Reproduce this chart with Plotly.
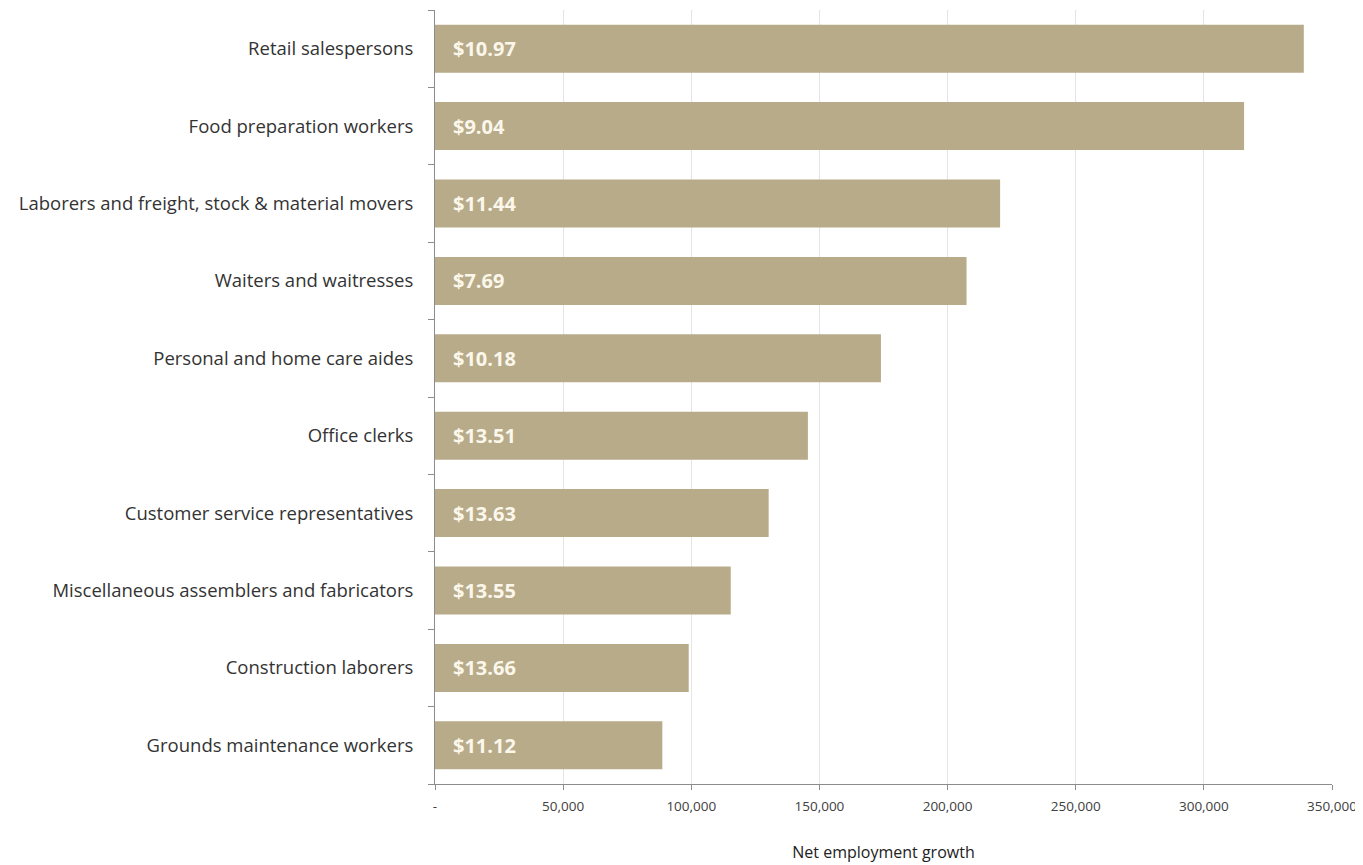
import plotly.graph_objects as go

occupations = [
    "Retail salespersons",
    "Food preparation workers",
    "Laborers and freight, stock & material movers",
    "Waiters and waitresses",
    "Personal and home care aides",
    "Office clerks",
    "Customer service representatives",
    "Miscellaneous assemblers and fabricators",
    "Construction laborers",
    "Grounds maintenance workers",
]
growth = [339000, 315700, 220500, 207400, 174000, 145500, 130200, 115400, 99000, 88700]
wages = ["$10.97", "$9.04", "$11.44", "$7.69", "$10.18", "$13.51", "$13.63", "$13.55", "$13.66", "$11.12"]

x_tickvals = [0, 50000, 100000, 150000, 200000, 250000, 300000, 350000]
x_ticktext = ["-", "50,000", "100,000", "150,000", "200,000", "250,000", "300,000", "350,000"]

BAR = "#b8ab8a"
FONT = "Open Sans"

fig = go.Figure()
fig.add_trace(go.Bar(
    x=growth,
    y=occupations,
    orientation="h",
    marker=dict(color=BAR, line=dict(width=0)),
    width=0.62,
    hoverinfo="x+y",
))

for occ, w in zip(occupations, wages):
    fig.add_annotation(
        x=0, y=occ, xref="x", yref="y",
        text=w, showarrow=False,
        xanchor="left", yanchor="middle", xshift=16,
        font=dict(family=FONT, size=20, color="#fbf7ea", weight="bold"),
    )

# page body has an 8px default margin; figure offset accounted for in margins
fig.update_layout(
    width=1363, height=857,
    margin=dict(l=427, r=39, t=2, b=81),
    paper_bgcolor="white",
    plot_bgcolor="white",
    showlegend=False,
    bargap=0.38,
    font=dict(family=FONT, color="#333333"),
)

fig.update_xaxes(
    automargin=False,
    range=[0, 350000],
    tickvals=x_tickvals,
    ticktext=x_ticktext,
    tickfont=dict(family=FONT, size=13.5, color="#404040"),
    showgrid=True,
    gridcolor="#e4e4e8",
    gridwidth=1,
    showline=True,
    linecolor="#8c8c8c",
    linewidth=1,
    ticks="outside",
    ticklen=5,
    tickcolor="#8c8c8c",
    ticklabelstandoff=5,
    zeroline=False,
    title=dict(text="Net employment growth", font=dict(family=FONT, size=16, color="#222222"), standoff=32),
)

fig.update_yaxes(
    automargin=False,
    categoryorder="array",
    categoryarray=occupations[::-1],
    tickfont=dict(family=FONT, size=18.5, color="#333333"),
    showline=True,
    linecolor="#8c8c8c",
    linewidth=1,
    ticks="outside",
    ticklen=6,
    tickcolor="#8c8c8c",
    tickson="boundaries",
    showgrid=False,
    ticklabelstandoff=17,
)

fig.write_html("out.html")
